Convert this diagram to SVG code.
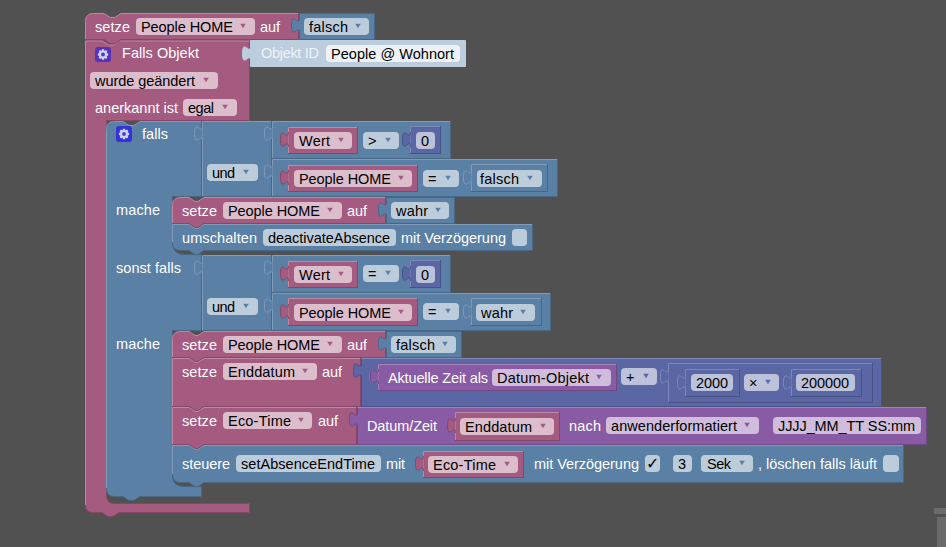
<svg xmlns="http://www.w3.org/2000/svg" width="946" height="547" viewBox="0 0 946 547">
<style>
text{font-family:"Liberation Sans",Arial,sans-serif;font-size:14.5px;fill:#fff;white-space:pre}
.k{fill:#000}
.P{fill:#a55b80;stroke:#844866}.B{fill:#5b80a5;stroke:#496684}.I{fill:#5b67a5;stroke:#495284}.V{fill:#8a5ba5;stroke:#6e4984}.L{fill:#bccddd;stroke:#bccddd}
.hP,.hB,.hI,.hV{fill:none}
.hP{stroke:#bb8aa3}.hB{stroke:#7f9bb8}.hI{stroke:#8088b8}.hV{stroke:#a582b8}
.fP{fill:#dbbdcc}.fB{fill:#bdccdb}.fI{fill:#bdc2db}.fV{fill:#d0bddb}.fW{fill:#eef2f6}
.aP{fill:#a55b80}.aB{fill:#5b80a5}.aI{fill:#5b67a5}.aV{fill:#8a5ba5}
.oB{fill:#5b80a5;stroke:#7f9bb8}.oI{fill:#5b67a5;stroke:#8088b8}.oV{fill:#8a5ba5;stroke:#a582b8}
.sP{fill:#a55b80;stroke:#844866}.sI{fill:#5b67a5;stroke:#495284}.sB{fill:#5b80a5;stroke:#496684}.sV{fill:#8a5ba5;stroke:#6e4984}
</style>
<defs>
<path id="tab" d="M0 0c0 10-8-8-8 7.5s8-2.500 8 7.500"/>
<path id="ar" d="M-2.800 -2.200h5.600l-2.800 4.500z"/>
<g id="gear"><path d="M-1-5.200h2l.5 1.600 1.400-.8 1.500 1.500-.8 1.400 1.600.5v2l-1.600.5.8 1.400-1.500 1.500-1.400-.8-.5 1.600h-2l-.5-1.600-1.400.8-1.500-1.500.8-1.400-1.600-.5v-2l1.600-.5-.8-1.400 1.500-1.500 1.400.8z" fill="#d0d4f0"/><circle r="1.900" fill="#4040c8"/></g>
</defs>
<rect width="946" height="547" fill="#515151"/>
<rect x="934" y="508" width="12" height="6" fill="#6b6b6b"/>
<rect x="937" y="517" width="9" height="30" fill="#6b6b6b"/>

<g id="falls-objekt">
<path class="P" d="M85.500 48.500V505.500Q85.500 512.500 93.500 512.500H102l6 4h5l6-4H249.500V503.500H114.500Q106.500 503.500 106.500 495.500V120.500H249.500V40.500H120l-6 4h-5l-6-4H85.500Z"/>
<path class="hP" d="M85.500 505V41H102.500l6 4h5l6-4H249.500"/>
<rect x="95" y="47" width="16" height="15" rx="3" fill="#5533bb"/><use href="#gear" x="103" y="54.500"/>
<text x="122" y="58" textLength="77">Falls Objekt</text>
<rect x="90" y="72" width="128" height="17" rx="4" class="fP"/><text x="95" y="86" class="k" textLength="100">wurde geändert</text><use href="#ar" x="206" y="80" class="aP"/>
<text x="95" y="113" textLength="83">anerkannt ist</text>
<rect x="183" y="99" width="54" height="17" rx="4" class="fP"/><text x="188" y="113" class="k" textLength="26">egal</text><use href="#ar" x="225" y="107" class="aP"/>
</g>

<g id="objekt-id">
<path class="L" d="M250.500 40.500H465.500V66.500H250.500V61c0-10-8 8-8-7.500s8 2.500 8-7.500Z"/>
<text x="261" y="58" style="fill:#eef3f8" textLength="58">Objekt ID</text>
<rect x="326" y="45" width="134" height="17" rx="4" class="fW"/><text x="331" y="59" class="k" textLength="123">People @ Wohnort</text>
</g>

<g id="setze-top">
<path class="P" d="M85.500 21.500Q85.500 13.500 93.500 13.500H104l6 4h5l6-4H298.500V39.500H121l-6 4h-5l-6-4H85.500Z"/>
<path class="hP" d="M85.500 39V21.500Q85.500 13.500 93.500 13.500H104l6 4h5l6-4H298"/>
<text x="95" y="32" textLength="35">setze</text>
<rect x="136" y="18" width="119" height="17" rx="4" class="fP"/><text x="141" y="32" class="k" textLength="92">People HOME</text><use href="#ar" x="243" y="26" class="aP"/>
<text x="260" y="32" textLength="20">auf</text>
</g>
<g id="falsch-top">
<path class="B" d="M299.500 13.500H374.500V39.500H299.500V33c0-10-8 8-8-7.500s8 2.500 8-7.500Z"/>
<rect x="304" y="18" width="65" height="17" rx="4" class="fB"/><text x="309" y="32" class="k" textLength="39">falsch</text><use href="#ar" x="358" y="26" class="aB"/>
</g>

<g id="falls-block">
<path class="B" d="M106.500 129.500Q106.500 121.500 114.500 121.500H123l6 4h5l6-4H201.500V196.500H172.500V242Q172.500 254.500 184.500 254.500H201.500V330.500H172.500V476Q172.500 486.500 184.500 486.500H201.500V496.500H140l-6 4h-5l-6-4H114.500Q106.500 496.500 106.500 488.500Z"/>
<path class="hB" d="M106.500 488V129.500Q106.500 121.500 114.500 121.500H123l6 4h5l6-4H201"/>
<rect x="116" y="126" width="16" height="16" rx="3" fill="#3333dd"/><use href="#gear" x="124" y="134"/>
<text x="142" y="139" textLength="26">falls</text>
<text x="116" y="215" textLength="44">mache</text>
<text x="116" y="273" textLength="65">sonst falls</text>
<text x="116" y="349" textLength="44">mache</text>
</g>

<g id="und-1">
<rect x="202.500" y="121.500" width="69" height="75" class="B"/><path class="hB" d="M202.500 196V121.500H271"/>
<use href="#tab" x="202.500" y="126" class="oB"/>
<rect x="207" y="164" width="51" height="17" rx="4" class="fB"/><text x="212" y="178" class="k" textLength="23">und</text><use href="#ar" x="246" y="172" class="aB"/>
</g>
<g id="cmp-1">
<rect x="272.500" y="121.500" width="178" height="37" class="B"/><path class="hB" d="M272.500 158V121.500H450"/>
<use href="#tab" x="272.500" y="126" class="oB"/>
<rect x="288.500" y="127.500" width="69" height="26" class="P"/><path class="hP" d="M288.500 153V127.500H357"/><use href="#tab" x="288.500" y="132" class="sP"/>
<rect x="294" y="132" width="58" height="17" rx="4" class="fP"/><text x="299" y="146" class="k" textLength="31">Wert</text><use href="#ar" x="341" y="140" class="aP"/>
<rect x="363" y="132" width="36" height="17" rx="4" class="fB"/><text x="368" y="146" class="k">&gt;</text><use href="#ar" x="388" y="140" class="aB"/>
<rect x="410.500" y="126.500" width="30" height="27" class="I"/><path class="hI" d="M410.500 153V126.500H440"/><use href="#tab" x="410.500" y="132" class="sI"/>
<rect x="416" y="132" width="19" height="17" rx="4" class="fI"/><text x="421" y="146" class="k">0</text>
</g>
<g id="cmp-2">
<rect x="272.500" y="159.500" width="285" height="37" class="B"/><path class="hB" d="M272.500 196V159.500H557"/>
<use href="#tab" x="272.500" y="164" class="oB"/>
<rect x="288.500" y="165.500" width="129" height="26" class="P"/><path class="hP" d="M288.500 191V165.500H417"/><use href="#tab" x="288.500" y="170" class="sP"/>
<rect x="294" y="170" width="118" height="17" rx="4" class="fP"/><text x="299" y="184" class="k" textLength="92">People HOME</text><use href="#ar" x="401" y="178" class="aP"/>
<rect x="423" y="170" width="36" height="17" rx="4" class="fB"/><text x="428" y="184" class="k">=</text><use href="#ar" x="448" y="178" class="aB"/>
<rect x="471.500" y="164.500" width="76" height="27" class="B"/><path class="hB" d="M471.500 191V164.500H547"/><use href="#tab" x="471.500" y="170" class="oB"/>
<rect x="477" y="170" width="65" height="17" rx="4" class="fB"/><text x="480" y="184" class="k" textLength="39">falsch</text><use href="#ar" x="530" y="178" class="aB"/>
</g>

<g id="setze-wahr">
<path class="P" d="M172.500 205.500Q172.500 197.500 180.500 197.500H189l6 4h3l6-4H385.500V223.500H204l-6 4h-3l-6-4H172.500Z"/>
<path class="hP" d="M172.500 223V205.500Q172.500 197.500 180.500 197.500H189l6 4h3l6-4H385"/>
<text x="182" y="216" textLength="35">setze</text>
<rect x="223" y="202" width="119" height="17" rx="4" class="fP"/><text x="228" y="216" class="k" textLength="92">People HOME</text><use href="#ar" x="330" y="210" class="aP"/>
<text x="347" y="216" textLength="20">auf</text>
</g>
<g id="wahr-1">
<path class="B" d="M386.500 197.500H454.500V223.500H386.500V217c0-10-8 8-8-7.500s8 2.500 8-7.500Z"/>
<rect x="391" y="202" width="58" height="17" rx="4" class="fB"/><text x="396" y="216" class="k" textLength="32">wahr</text><use href="#ar" x="438" y="210" class="aB"/>
</g>
<g id="umschalten">
<path class="B" d="M172.500 224.500H189l6 4h3l6-4H532.500V250.500H204l-6 4h-3l-6-4H180.500Q172.500 250.500 172.500 242.500Z"/>
<path class="hB" d="M172.500 242V224.500H189l6 4h3l6-4H532"/>
<text x="182" y="243" textLength="75">umschalten</text>
<rect x="263" y="229" width="133" height="17" rx="4" class="fB"/><text x="268" y="243" class="k" textLength="122">deactivateAbsence</text>
<text x="401" y="243" textLength="105">mit Verzögerung</text>
<rect x="512" y="229" width="15" height="17" rx="4" class="fB"/>
</g>

<g id="und-2">
<rect x="202.500" y="255.500" width="69" height="75" class="B"/><path class="hB" d="M202.500 330V255.500H271"/>
<use href="#tab" x="202.500" y="260" class="oB"/>
<rect x="207" y="298" width="51" height="17" rx="4" class="fB"/><text x="212" y="312" class="k" textLength="23">und</text><use href="#ar" x="246" y="306" class="aB"/>
</g>
<g id="cmp-3">
<rect x="272.500" y="255.500" width="178" height="37" class="B"/><path class="hB" d="M272.500 292V255.500H450"/>
<use href="#tab" x="272.500" y="260" class="oB"/>
<rect x="288.500" y="261.500" width="69" height="26" class="P"/><path class="hP" d="M288.500 287V261.500H357"/><use href="#tab" x="288.500" y="266" class="sP"/>
<rect x="294" y="266" width="58" height="17" rx="4" class="fP"/><text x="299" y="280" class="k" textLength="31">Wert</text><use href="#ar" x="341" y="274" class="aP"/>
<rect x="363" y="265" width="36" height="17" rx="4" class="fB"/><text x="368" y="279" class="k">=</text><use href="#ar" x="388" y="273" class="aB"/>
<rect x="410.500" y="260.500" width="30" height="27" class="I"/><path class="hI" d="M410.500 287V260.500H440"/><use href="#tab" x="410.500" y="266" class="sI"/>
<rect x="416" y="266" width="19" height="17" rx="4" class="fI"/><text x="421" y="280" class="k">0</text>
</g>
<g id="cmp-4">
<rect x="272.500" y="293.500" width="278" height="37" class="B"/><path class="hB" d="M272.500 330V293.500H550"/>
<use href="#tab" x="272.500" y="298" class="oB"/>
<rect x="288.500" y="298.500" width="129" height="27" class="P"/><path class="hP" d="M288.500 325V298.500H417"/><use href="#tab" x="288.500" y="304" class="sP"/>
<rect x="294" y="304" width="118" height="17" rx="4" class="fP"/><text x="299" y="318" class="k" textLength="92">People HOME</text><use href="#ar" x="401" y="312" class="aP"/>
<rect x="423" y="303" width="36" height="17" rx="4" class="fB"/><text x="428" y="317" class="k">=</text><use href="#ar" x="448" y="311" class="aB"/>
<rect x="471.500" y="298.500" width="70" height="27" class="B"/><path class="hB" d="M471.500 325V298.500H541"/><use href="#tab" x="471.500" y="304" class="oB"/>
<rect x="476" y="304" width="59" height="17" rx="4" class="fB"/><text x="481" y="318" class="k" textLength="32">wahr</text><use href="#ar" x="523" y="312" class="aB"/>
</g>

<g id="setze-falsch">
<path class="P" d="M172.500 339.500Q172.500 331.500 180.500 331.500H189l6 4h3l6-4H385.500V357.500H204l-6 4h-3l-6-4H172.500Z"/>
<path class="hP" d="M172.500 357V339.500Q172.500 331.500 180.500 331.500H189l6 4h3l6-4H385"/>
<text x="182" y="350" textLength="35">setze</text>
<rect x="223" y="336" width="119" height="17" rx="4" class="fP"/><text x="228" y="350" class="k" textLength="92">People HOME</text><use href="#ar" x="330" y="344" class="aP"/>
<text x="347" y="350" textLength="20">auf</text>
</g>
<g id="falsch-2">
<path class="B" d="M386.500 331.500H461.500V357.500H386.500V351c0-10-8 8-8-7.500s8 2.500 8-7.500Z"/>
<rect x="391" y="336" width="65" height="17" rx="4" class="fB"/><text x="396" y="350" class="k" textLength="39">falsch</text><use href="#ar" x="445" y="344" class="aB"/>
</g>

<g id="setze-enddatum">
<path class="P" d="M172.500 358.500H189l6 4h3l6-4H360.500V406.500H204l-6 4h-3l-6-4H172.500Z"/>
<path class="hP" d="M172.500 406V358.500H189l6 4h3l6-4H360"/>
<text x="182" y="377" textLength="35">setze</text>
<rect x="223" y="363" width="94" height="17" rx="4" class="fP"/><text x="228" y="377" class="k" textLength="67">Enddatum</text><use href="#ar" x="305" y="371" class="aP"/>
<text x="322" y="377" textLength="20">auf</text>
</g>
<g id="plus">
<path class="I" d="M361.500 358.500H881.500V406.500H361.500V378c0-10-8 8-8-7.500s8 2.500 8-7.500Z"/>
<path class="hI" d="M361.500 358.500H881"/>
<use href="#tab" x="378" y="369" class="oI"/>
<rect x="621" y="368" width="36" height="17" rx="4" class="fI"/><text x="626" y="382" class="k">+</text><use href="#ar" x="646" y="376" class="aI"/>
</g>
<g id="aktuelle-zeit">
<rect x="378.500" y="364.500" width="238" height="26" class="V"/><path class="hV" d="M378.500 390V364.500H616"/><use href="#tab" x="378.500" y="369" class="sV"/>
<text x="388" y="383" textLength="100">Aktuelle Zeit als</text>
<rect x="492" y="369" width="119" height="17" rx="4" class="fV"/><text x="497" y="383" class="k" textLength="92">Datum-Objekt</text><use href="#ar" x="599" y="377" class="aV"/>
</g>
<g id="mal">
<rect x="668.500" y="363.500" width="204" height="39" class="I"/><path class="hI" d="M668.500 402V363.500H872"/><use href="#tab" x="668.500" y="369" class="oI"/>
<rect x="685.500" y="369.500" width="54" height="27" class="I"/><path class="hI" d="M685.500 396V369.500H739"/><use href="#tab" x="685.500" y="375" class="oI"/>
<rect x="691" y="374" width="42" height="17" rx="4" class="fI"/><text x="696" y="388" class="k" textLength="32">2000</text>
<rect x="744" y="374" width="35" height="17" rx="4" class="fI"/><text x="749" y="388" class="k">×</text><use href="#ar" x="768" y="382" class="aI"/>
<rect x="791.500" y="369.500" width="70" height="27" class="I"/><path class="hI" d="M791.500 396V369.500H861"/><use href="#tab" x="791.500" y="375" class="oI"/>
<rect x="796" y="374" width="59" height="17" rx="4" class="fI"/><text x="801" y="388" class="k" textLength="48">200000</text>
</g>

<g id="setze-ecotime">
<path class="P" d="M172.500 407.500H189l6 4h3l6-4H356.500V444.500H204l-6 4h-3l-6-4H172.500Z"/>
<path class="hP" d="M172.500 444V407.500H189l6 4h3l6-4H356"/>
<text x="182" y="426" textLength="35">setze</text>
<rect x="223" y="412" width="89" height="17" rx="4" class="fP"/><text x="228" y="426" class="k" textLength="63">Eco-Time</text><use href="#ar" x="301" y="420" class="aP"/>
<text x="318" y="426" textLength="20">auf</text>
</g>
<g id="datum-zeit">
<path class="V" d="M357.500 407.500H926.500V444.500H357.500V427c0-10-8 8-8-7.500s8 2.500 8-7.500Z"/>
<path class="hV" d="M357.500 407.500H926"/>
<text x="367" y="431" textLength="70">Datum/Zeit</text>
<rect x="455.500" y="412.500" width="104" height="28" class="P"/><path class="hP" d="M455.500 440V412.500H559"/><use href="#tab" x="455.500" y="418" class="sP"/>
<rect x="460" y="418" width="94" height="17" rx="4" class="fP"/><text x="465" y="432" class="k" textLength="67">Enddatum</text><use href="#ar" x="543" y="426" class="aP"/>
<text x="569" y="431" textLength="32">nach</text>
<rect x="606" y="417" width="153" height="17" rx="4" class="fV"/><text x="611" y="431" class="k" textLength="126">anwenderformatiert</text><use href="#ar" x="747" y="425" class="aV"/>
<rect x="773" y="417" width="148" height="17" rx="4" class="fV"/><text x="778" y="431" class="k" textLength="137">JJJJ_MM_TT SS:mm</text>
</g>

<g id="steuere">
<path class="B" d="M172.500 445.500H189l6 4h3l6-4H903.500V482.500H204l-6 4h-3l-6-4H180.500Q172.500 482.500 172.500 474.500Z"/>
<path class="hB" d="M172.500 474V445.500H189l6 4h3l6-4H903"/>
<text x="182" y="469" textLength="48">steuere</text>
<rect x="236" y="455" width="145" height="17" rx="4" class="fB"/><text x="241" y="469" class="k" textLength="134">setAbsenceEndTime</text>
<text x="386" y="469" textLength="19">mit</text>
<rect x="423.500" y="451.500" width="100" height="26" class="P"/><path class="hP" d="M423.500 477V451.500H523"/><use href="#tab" x="423.500" y="456" class="sP"/>
<rect x="428" y="456" width="90" height="17" rx="4" class="fP"/><text x="433" y="470" class="k" textLength="63">Eco-Time</text><use href="#ar" x="507" y="464" class="aP"/>
<text x="534" y="469" textLength="105">mit Verzögerung</text>
<rect x="645" y="455" width="15" height="17" rx="4" class="fB"/><text x="646" y="469" class="k" style="font-family:'DejaVu Sans',sans-serif;font-size:16px">✓</text>
<rect x="673" y="455" width="19" height="17" rx="4" class="fB"/><text x="678" y="469" class="k">3</text>
<rect x="701" y="455" width="52" height="17" rx="4" class="fB"/><text x="707" y="469" class="k" textLength="24">Sek</text><use href="#ar" x="742" y="463" class="aB"/>
<text x="758" y="469" textLength="119">, löschen falls läuft</text>
<rect x="883" y="455" width="16" height="17" rx="4" class="fB"/>
</g>
</svg>
